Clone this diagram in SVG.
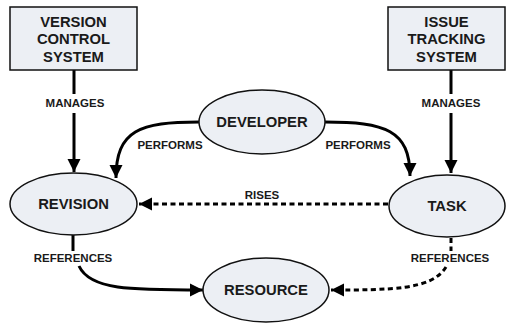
<svg xmlns="http://www.w3.org/2000/svg" width="506" height="323" viewBox="0 0 506 323">
<style>
.box{fill:#eceff4;stroke:#111;stroke-width:1.5}
.node{fill:#eceff4;stroke:#111;stroke-width:1.5}
.t{font-family:"Liberation Sans",Arial,sans-serif;font-weight:bold;font-size:14.8px;fill:#1a1a1a;text-anchor:middle}
.l{font-family:"Liberation Sans",Arial,sans-serif;font-weight:bold;font-size:11.5px;fill:#1a1a1a;text-anchor:middle}
.c{fill:none;stroke:#000;stroke-width:3}
.d{fill:none;stroke:#000;stroke-width:3;stroke-dasharray:5 3.5}
</style>
<defs>
<marker id="ah" viewBox="0 0 10 10" refX="10" refY="5" markerWidth="4.4" markerHeight="4.4" markerUnits="strokeWidth" orient="auto">
<path d="M0,0 L10,5 L0,10 Z" fill="#000"/>
</marker>
</defs>
<g id="connectors">
<path class="c" d="M74,70 L74,94 M74,113 L74,161" />
<path class="c" d="M74,161 L74,172" marker-end="url(#ah)"/>
<path class="c" d="M451,70 L451,94 M451,113 L451,161"/>
<path class="c" d="M451,161 L451,173" marker-end="url(#ah)"/>
<path class="c" d="M199,122 C140,122 116,130 116,178" marker-end="url(#ah)"/>
<path class="c" d="M325,122 C385,122 410,130 410,176" marker-end="url(#ah)"/>
<path class="d" d="M388,204 L139,204" marker-end="url(#ah)"/>
<path class="c" d="M73,235 L73,251"/>
<path class="c" d="M79,266 C90,290 130,290 203,290" marker-end="url(#ah)"/>
<path class="d" d="M451,238 L451,251"/>
<path class="d" d="M446,267 C432,290 390,290 331,290" marker-end="url(#ah)"/>
</g>
<g id="vcs">
<rect class="box" x="10" y="7" width="127" height="63"/>
<text class="t" x="73.5" y="26.5">VERSION</text>
<text class="t" x="73.5" y="44">CONTROL</text>
<text class="t" x="73.5" y="61.5">SYSTEM</text>
</g>
<g id="its">
<rect class="box" x="388" y="7" width="117" height="63"/>
<text class="t" x="446.5" y="26.5">ISSUE</text>
<text class="t" x="446.5" y="44">TRACKING</text>
<text class="t" x="446.5" y="61.5">SYSTEM</text>
</g>
<g id="developer">
<ellipse class="node" cx="262" cy="122" rx="63" ry="32"/>
<text class="t" x="262" y="127">DEVELOPER</text>
</g>
<g id="revision">
<ellipse class="node" cx="73.5" cy="204" rx="63.5" ry="31"/>
<text class="t" x="73.5" y="209">REVISION</text>
</g>
<g id="task">
<ellipse class="node" cx="447" cy="206" rx="58" ry="31"/>
<text class="t" x="447" y="211">TASK</text>
</g>
<g id="resource">
<ellipse class="node" cx="266" cy="290" rx="63" ry="32"/>
<text class="t" x="266" y="295">RESOURCE</text>
</g>
<g id="labels">
<text class="l" x="75" y="107">MANAGES</text>
<text class="l" x="451" y="107">MANAGES</text>
<text class="l" x="170" y="149">PERFORMS</text>
<text class="l" x="358" y="149">PERFORMS</text>
<text class="l" x="262" y="199">RISES</text>
<text class="l" x="73" y="262">REFERENCES</text>
<text class="l" x="450" y="262">REFERENCES</text>
</g>
</svg>
